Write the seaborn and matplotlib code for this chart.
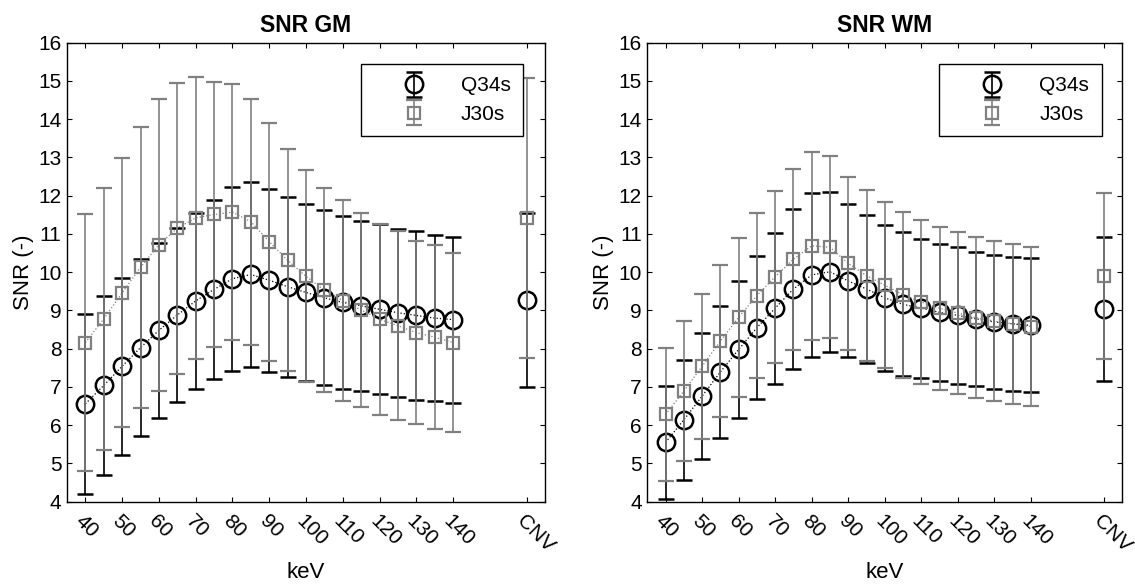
import numpy as np
import pandas as pd
import matplotlib
matplotlib.use("Agg")
import matplotlib.pyplot as plt
import seaborn as sns
from matplotlib.transforms import ScaledTranslation
from matplotlib.legend_handler import HandlerErrorbar

# ---------------- data ----------------
kev = [40, 45, 50, 55, 60, 65, 70, 75, 80, 85, 90, 95, 100, 105, 110, 115, 120, 125, 130, 135, 140]
tick_kev = [40, 50, 60, 70, 80, 90, 100, 110, 120, 130, 140]
tick_labels = ["40", "50", "60", "70", "80", "90", "100", "110", "120", "130", "140"]
cnv_pos = 160
cnv_label = "CNV"
series_names = ["Q34s", "J30s"]

# SNR GM
gm_q34s_mean = [6.56, 7.04, 7.54, 8.03, 8.48, 8.88, 9.25, 9.55, 9.83, 9.94, 9.79, 9.62, 9.47, 9.33, 9.21, 9.12, 9.03, 8.94, 8.87, 8.80, 8.76]
gm_q34s_sd = [2.35, 2.34, 2.32, 2.31, 2.28, 2.28, 2.31, 2.33, 2.40, 2.41, 2.39, 2.35, 2.31, 2.29, 2.26, 2.23, 2.22, 2.20, 2.20, 2.17, 2.17]
gm_q34s_cnv = 9.27
gm_q34s_cnv_sd = 2.28
gm_j30s_mean = [8.16, 8.78, 9.46, 10.13, 10.72, 11.15, 11.42, 11.51, 11.57, 11.32, 10.80, 10.31, 9.89, 9.53, 9.26, 9.01, 8.77, 8.60, 8.42, 8.30, 8.16]
gm_j30s_sd = [3.35, 3.42, 3.52, 3.67, 3.82, 3.80, 3.69, 3.47, 3.35, 3.22, 3.11, 2.90, 2.77, 2.66, 2.63, 2.54, 2.50, 2.47, 2.40, 2.40, 2.35]
gm_j30s_cnv = 11.42
gm_j30s_cnv_sd = 3.67

# SNR WM
wm_q34s_mean = [5.55, 6.14, 6.76, 7.39, 7.98, 8.55, 9.06, 9.56, 9.93, 10.01, 9.77, 9.56, 9.33, 9.16, 9.06, 8.95, 8.87, 8.78, 8.70, 8.65, 8.61]
wm_q34s_sd = [1.48, 1.57, 1.64, 1.73, 1.80, 1.87, 1.97, 2.08, 2.14, 2.09, 2.00, 1.93, 1.90, 1.88, 1.82, 1.80, 1.78, 1.76, 1.75, 1.75, 1.75]
wm_q34s_cnv = 9.04
wm_q34s_cnv_sd = 1.88
wm_j30s_mean = [6.28, 6.89, 7.54, 8.20, 8.82, 9.39, 9.88, 10.34, 10.69, 10.65, 10.23, 9.91, 9.66, 9.41, 9.22, 9.06, 8.93, 8.81, 8.72, 8.65, 8.58]
wm_j30s_sd = [1.75, 1.83, 1.90, 1.98, 2.07, 2.16, 2.25, 2.37, 2.46, 2.38, 2.27, 2.24, 2.17, 2.17, 2.15, 2.13, 2.12, 2.11, 2.10, 2.09, 2.07]
wm_j30s_cnv = 9.90
wm_j30s_cnv_sd = 2.17

# ---------------- style ----------------
sns.set_theme(style="ticks")
plt.rcParams["font.family"] = ["Liberation Sans", "DejaVu Sans"]
plt.rcParams["axes.edgecolor"] = "black"
plt.rcParams["axes.linewidth"] = 1.0
plt.rcParams["text.color"] = "black"
plt.rcParams["axes.labelcolor"] = "black"
plt.rcParams["xtick.color"] = "black"
plt.rcParams["ytick.color"] = "black"

BLACK = "#000000"
GRAY = "#808080"

fig = plt.figure(figsize=(11.35, 5.88), dpi=100)
W, H = 1135.0, 588.0
ax1 = fig.add_axes([67 / W, 1 - 501.7 / H, 478 / W, 459 / H])
ax2 = fig.add_axes([647.3 / W, 1 - 501.7 / H, 475 / W, 459 / H])


def panel(ax, title, q_m, q_s, q_c, q_cs, j_m, j_s, j_c, j_cs, leg_x):
    df = pd.DataFrame({
        "keV": kev + kev,
        "SNR": q_m + j_m,
        "series": [series_names[0]] * len(kev) + [series_names[1]] * len(kev),
    })
    sns.lineplot(data=df, x="keV", y="SNR", hue="series",
                 palette={series_names[0]: BLACK, series_names[1]: GRAY},
                 linestyle=":", linewidth=0.9, legend=False, ax=ax, zorder=1)
    handles = []
    specs = [
        (q_m, q_s, q_c, q_cs, BLACK, "o", 12.5, 1.8, 2),
        (j_m, j_s, j_c, j_cs, GRAY, "s", 9.0, 1.6, 3),
    ]
    for m, s, c, cs, color, mk, ms, mew, z in specs:
        ax.errorbar(kev, m, yerr=s, fmt=mk, linestyle="none", mfc="none", mec=color,
                    ms=ms, mew=mew, ecolor=color, elinewidth=1.2, capsize=6,
                    capthick=1.7, zorder=z)
        h = ax.errorbar([cnv_pos], [c], yerr=[cs], fmt=mk, linestyle="none", mfc="none",
                        mec=color, ms=ms, mew=mew, ecolor=color, elinewidth=1.2,
                        capsize=6, capthick=1.7, zorder=z)
        handles.append(h)

    ax.set_xlim(35, 165)
    ax.set_ylim(4, 16)
    ax.set_yticks(np.arange(4, 17, 1))
    ax.set_xticks(tick_kev + [cnv_pos])
    ax.set_xticklabels(tick_labels + [cnv_label], rotation=-45, ha="left", va="top",
                       rotation_mode="anchor")
    off = ScaledTranslation(-9 / 100.0, -1 / 100.0, fig.dpi_scale_trans)
    for lab in ax.get_xticklabels():
        lab.set_transform(lab.get_transform() + off)
    ax.tick_params(direction="in", top=True, right=True, length=3.8, width=0.8,
                   colors="black", labelsize=15)
    ax.tick_params(axis="x", pad=7)
    ax.tick_params(axis="y", pad=4)
    for sp in ax.spines.values():
        sp.set_color("black")
        sp.set_linewidth(1.0)
    ax.set_title(title, fontsize=16.5, fontweight="bold", pad=8, color="black")
    ax.set_xlabel("keV", fontsize=16, color="black")
    ax.set_ylabel("SNR (-)", fontsize=16, color="black")
    ax.xaxis.set_label_coords(0.5, -0.132)
    ax.yaxis.set_label_coords(-0.07, 0.5)

    hm = {h: HandlerErrorbar(xerr_size=0.5, yerr_size=0.6) for h in handles}
    leg = ax.legend(handles, series_names, loc="upper right",
                    bbox_to_anchor=(leg_x, 0.9536), borderaxespad=0,
                    fontsize=15, frameon=True, fancybox=False, framealpha=1,
                    edgecolor="black", handlelength=3.9, handletextpad=0.3,
                    borderpad=0.6, labelspacing=0.45, handler_map=hm,
                    numpoints=1)
    leg.get_frame().set_linewidth(1.0)
    for t in leg.get_texts():
        t.set_color("black")


panel(ax1, "SNR GM", gm_q34s_mean, gm_q34s_sd, gm_q34s_cnv, gm_q34s_cnv_sd,
      gm_j30s_mean, gm_j30s_sd, gm_j30s_cnv, gm_j30s_cnv_sd, 0.9546)
panel(ax2, "SNR WM", wm_q34s_mean, wm_q34s_sd, wm_q34s_cnv, wm_q34s_cnv_sd,
      wm_j30s_mean, wm_j30s_sd, wm_j30s_cnv, wm_j30s_cnv_sd, 0.9566)

fig.savefig("out.png", dpi=100, facecolor="white")
